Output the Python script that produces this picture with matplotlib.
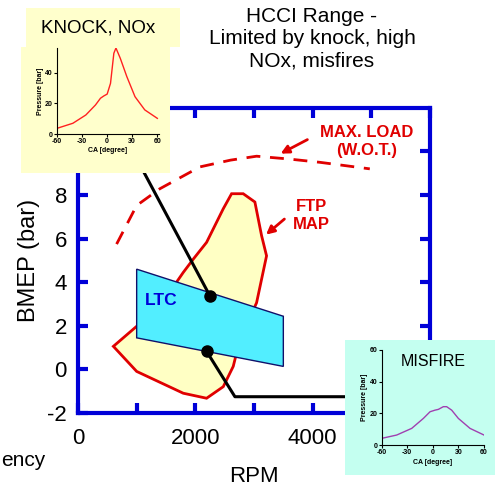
import matplotlib
matplotlib.use('Agg')
import matplotlib.pyplot as plt
from matplotlib.patches import Rectangle, Polygon

plt.rcParams['font.family'] = ['Liberation Sans', 'DejaVu Sans']
plt.rcParams['axes.unicode_minus'] = False

# ---- data ----
ftp_rpm = [603, 1000, 1794, 2192, 2476, 2646, 2760, 3044, 3214, 3129, 3015,
           2816, 2618, 2476, 2192, 1965, 1794, 1397, 1000]
ftp_bmep = [1.06, -0.09, -1.09, -1.32, -0.79, 0.14, 1.37, 3.06, 5.21, 6.14,
            7.68, 8.06, 8.06, 7.37, 5.83, 5.06, 4.45, 2.9, 1.98]

ltc_rpm = [1000, 1000, 3500, 3500]
ltc_bmep = [4.6, 1.45, 0.14, 2.44]

wot_rpm = [658, 1000, 1397, 2078, 2600, 3044, 3600, 4123, 4974]
wot_bmep = [5.75, 7.52, 8.29, 9.29, 9.6, 9.78, 9.65, 9.5, 9.2]

knock_line_rpm = [934, 2249]
knock_line_bmep = [10.0, 3.37]
misfire_line_rpm = [2192, 2675, 4700]
misfire_line_bmep = [0.83, -1.25, -1.25]

knock_ca = [-60, -41, -25.5, -14, -8, -4, 0, 4, 8, 10.5, 15.7, 23.5, 33.3, 45, 60]
knock_p = [3.7, 7, 12.4, 18.9, 23.3, 24.8, 26, 33, 52.6, 56, 49.3, 37.4, 24.3, 15.7, 10.2]

misfire_ca = [-60, -42.4, -24.8, -11.1, -3.3, 2.5, 6.5, 12.3, 16.2, 22.1, 29.9, 43.6, 60]
misfire_p = [4.2, 6.3, 10.5, 16.8, 21, 22, 22.5, 24.2, 24.2, 22, 16.8, 10.5, 6.3]

# labels at 10 and 6000 sit under the insets in the reference
xticks = [0, 1000, 2000, 3000, 4000, 5000, 6000]
xticklabels = ['0', '', '2000', '', '4000', '', '']
yticks = [-2, 0, 2, 4, 6, 8, 10]
yticklabels = ['-2', '0', '2', '4', '6', '8', '']

BLUE = '#0000D8'
RED = '#E00000'

fig = plt.figure(figsize=(5, 4.9), dpi=100)

# ---- main chart ----
ax = fig.add_axes([0.156, 0.157, 0.704, 0.623])
ax.set_xlim(0, 6000)
ax.set_ylim(-2, 12)
for s in ax.spines.values():
    s.set_color(BLUE)
    s.set_linewidth(3)
ax.set_xticks(xticks)
ax.set_xticklabels(xticklabels)
ax.set_yticks(yticks)
ax.set_yticklabels(yticklabels)
ax.tick_params(direction='in', length=7, width=3, color=BLUE,
               top=True, right=True, labelsize=16)
ax.tick_params(axis='x', pad=11)
ax.tick_params(axis='y', pad=8)
ax.set_xlabel('RPM', fontsize=16, labelpad=12)
ax.set_ylabel('BMEP (bar)', fontsize=17, labelpad=5)

ax.add_patch(Polygon(list(zip(ftp_rpm, ftp_bmep)), closed=True,
                     facecolor='#FFFFC4', edgecolor=RED, lw=2, zorder=2))
ax.add_patch(Polygon(list(zip(ltc_rpm, ltc_bmep)), closed=True,
                     facecolor='#52EEFF', edgecolor='#10106A', lw=1, zorder=3))
ax.plot(wot_rpm, wot_bmep, color=RED, lw=2, dashes=(5, 3.5), zorder=2)
ax.plot(knock_line_rpm, knock_line_bmep, color='black', lw=2.2, zorder=4)
ax.plot(misfire_line_rpm, misfire_line_bmep, color='black', lw=2.2, zorder=4)
ax.plot([knock_line_rpm[1], misfire_line_rpm[0]],
        [knock_line_bmep[1], misfire_line_bmep[0]], 'o', color='black',
        ms=8, zorder=5, clip_on=False)

ax.text(1424, 3.14, 'LTC', color=BLUE, fontsize=12.5, fontweight='bold',
        ha='center', va='center', zorder=6)
ax.text(3980, 7.06, 'FTP\nMAP', color=RED, fontsize=12, fontweight='bold',
        ha='center', va='center', linespacing=1.3)
ax.annotate('', xy=(3169, 6.1), xytext=(3554, 6.98),
            arrowprops=dict(arrowstyle='-|>', color=RED, lw=2, mutation_scale=12))
ax.text(4923, 10.46, 'MAX. LOAD\n(W.O.T.)', color=RED, fontsize=12,
        fontweight='bold', ha='center', va='center', linespacing=1.25)
ax.annotate('', xy=(3412, 9.84), xytext=(3952, 10.6),
            arrowprops=dict(arrowstyle='-|>', color=RED, lw=2, mutation_scale=12))

fig.text(0.624, 0.985, 'HCCI Range -\nLimited by knock, high\nNOx, misfires',
         ha='center', va='top', fontsize=15, linespacing=1.2)
fig.text(0.09, 0.061, 'ency', ha='right', va='center', fontsize=15)

# ---- KNOCK inset ----
fig.add_artist(Rectangle((0.042, 0.647), 0.298, 0.257, transform=fig.transFigure,
                         facecolor='#FFFFCC', edgecolor='none', zorder=5))
fig.add_artist(Rectangle((0.052, 0.904), 0.308, 0.08, transform=fig.transFigure,
                         facecolor='#FFFFCC', edgecolor='none', zorder=5))
fig.text(0.196, 0.943, 'KNOCK, NOx', ha='center', va='center', fontsize=13.5,
         zorder=6)
axk = fig.add_axes([0.114, 0.7265, 0.204, 0.1755], zorder=10)
axk.set_facecolor('none')
axk.plot(knock_ca, knock_p, color='#FF2020', lw=1)
axk.set_xlim(-60, 62)
axk.set_ylim(0, 56)
axk.set_xticks([-60, -30, 0, 30, 60])
axk.set_yticks([0, 20, 40])
axk.spines['top'].set_visible(False)
axk.spines['right'].set_visible(False)
axk.tick_params(labelsize=5, length=2, width=0.8, pad=1)
for lab in axk.get_xticklabels() + axk.get_yticklabels():
    lab.set_fontweight('bold')
axk.set_xlabel('CA [degree]', fontsize=5, labelpad=1, fontweight='bold')
axk.set_ylabel('Pressure [bar]', fontsize=5, labelpad=1, fontweight='bold')

# ---- MISFIRE inset ----
fig.add_artist(Rectangle((0.69, 0.0306), 0.30, 0.2755, transform=fig.transFigure,
                         facecolor='#C4FFF0', edgecolor='none', zorder=5))
axm = fig.add_axes([0.7634, 0.0918, 0.2046, 0.194], zorder=10)
axm.set_facecolor('none')
axm.plot(misfire_ca, misfire_p, color='#A040B0', lw=1)
axm.set_xlim(-60, 60)
axm.set_ylim(0, 60)
axm.set_xticks([-60, -30, 0, 30, 60])
axm.set_yticks([0, 20, 40, 60])
axm.spines['top'].set_visible(False)
axm.spines['right'].set_visible(False)
axm.tick_params(labelsize=5, length=2, width=0.8, pad=1)
for lab in axm.get_xticklabels() + axm.get_yticklabels():
    lab.set_fontweight('bold')
axm.set_xlabel('CA [degree]', fontsize=5, labelpad=2, fontweight='bold')
axm.set_ylabel('Pressure [bar]', fontsize=5, labelpad=1, fontweight='bold')
axm.text(0.5, 0.88, 'MISFIRE', transform=axm.transAxes, ha='center',
         va='center', fontsize=11.5)

fig.savefig('out.png', dpi=100)
